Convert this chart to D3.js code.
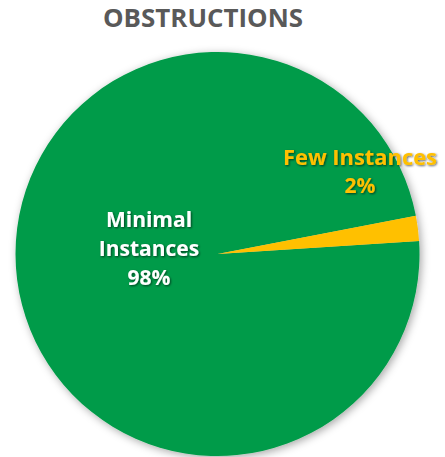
<!DOCTYPE html>
<html>
<head>
<meta charset="utf-8">
<script src="https://cdn.jsdelivr.net/npm/d3@7"></script>
<style>
  html, body { margin: 0; padding: 0; background: #fff; }
  svg { display: block; }
</style>
</head>
<body>
<svg id="chart" width="445" height="457"></svg>
<script>
// Obstructions breakdown
const categories = ["Minimal Instances", "Few Instances"];
const values = [98, 2];
const percentLabels = ["98%", "2%"];
const colors = ["#009B48", "#FFC000"];
const labelColors = ["#FFFFFF", "#FFC000"];

const width = 445, height = 457;
const cx = 217.5, cy = 254, radius = 202;

const svg = d3.select("#chart");
const defs = svg.append("defs");

const pieShadow = defs.append("filter")
  .attr("id", "pieShadow").attr("x", "-20%").attr("y", "-20%")
  .attr("width", "140%").attr("height", "140%");
pieShadow.append("feDropShadow")
  .attr("dx", 2).attr("dy", 2).attr("stdDeviation", 4)
  .attr("flood-color", "#000").attr("flood-opacity", 0.35);

const textShadow = defs.append("filter")
  .attr("id", "textShadow").attr("x", "-20%").attr("y", "-20%")
  .attr("width", "140%").attr("height", "140%");
textShadow.append("feDropShadow")
  .attr("dx", 1).attr("dy", 1).attr("stdDeviation", 0.8)
  .attr("flood-color", "#000").attr("flood-opacity", 0.6);

// Title
svg.append("text")
  .attr("x", 203).attr("y", 27)
  .attr("text-anchor", "middle")
  .attr("font-family", "'Open Sans', 'Noto Sans', sans-serif")
  .attr("font-weight", 700)
  .attr("font-size", 25)
  .attr("textLength", 200)
  .attr("lengthAdjust", "spacingAndGlyphs")
  .attr("fill", "#595959")
  .text("OBSTRUCTIONS");

// Pie rotated so the small slice sits just above three o'clock
const start = 86.3 * Math.PI / 180;
const pie = d3.pie().sort(null).value(d => d)
  .startAngle(start).endAngle(start + 2 * Math.PI);
const arcs = pie(values);
const arc = d3.arc().innerRadius(0).outerRadius(radius);

const g = svg.append("g").attr("transform", `translate(${cx},${cy})`);
g.append("g").attr("filter", "url(#pieShadow)")
  .selectAll("path").data(arcs).join("path")
  .attr("d", arc)
  .attr("fill", (d, i) => colors[i]);

// Data labels
const labelPos = [
  { x: 149, y: 227, size: 21, step: 29, lines: ["Minimal", "Instances", percentLabels[0]] },
  { x: 360, y: 165, size: 21, step: 28, lines: ["Few Instances", percentLabels[1]] }
];
labelPos.forEach((p, i) => {
  const t = svg.append("text")
    .attr("text-anchor", "middle")
    .attr("font-family", "'Open Sans', 'Noto Sans', sans-serif")
    .attr("font-weight", 700)
    .attr("font-size", p.size)
    .attr("fill", labelColors[i])
    .attr("filter", "url(#textShadow)");
  p.lines.forEach((ln, k) => {
    const s = t.append("tspan").attr("x", p.x).attr("y", p.y + k * p.step).text(ln);
    if (i === 1 && k === 0) s.attr("textLength", 154).attr("lengthAdjust", "spacingAndGlyphs");
  });
});
</script>
</body>
</html>
